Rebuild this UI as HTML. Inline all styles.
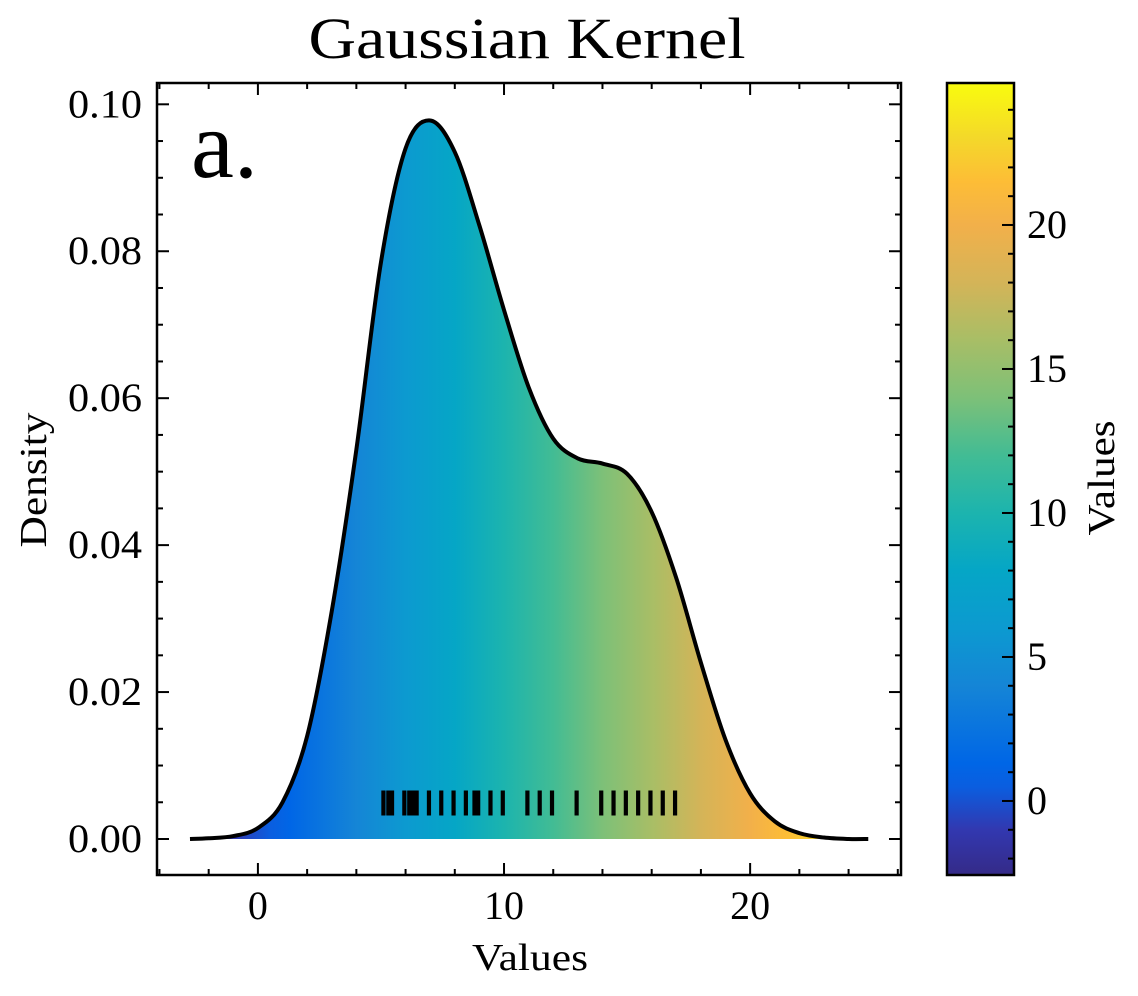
<!DOCTYPE html>
<html><head><meta charset="utf-8"><style>
html,body{margin:0;padding:0;background:#fff}
svg{display:block;font-family:"Liberation Serif","DejaVu Serif",serif}
</style></head><body>
<svg id="chart" width="1138" height="996" viewBox="0 0 1138 996" xmlns="http://www.w3.org/2000/svg">
<defs>
<linearGradient id="fillGrad" gradientUnits="userSpaceOnUse" x1="0" y1="0" x2="0" y2="0"></linearGradient>
<linearGradient id="cbGrad" gradientUnits="userSpaceOnUse" x1="0" y1="0" x2="0" y2="0"></linearGradient>
<clipPath id="plotClip"><rect x="157" y="83" width="744" height="792"/></clipPath>
</defs>
<g id="layer"></g>
</svg>
<script>
// ---- data ----
const curveX = [-2.76,-2,-1,0,1,2,3,4,5,6,7,8,9,10,11,12,13,14,15,16,17,18,19,20,21,22,23,24,24.8];
const curveY = [0,0.0001,0.0004,0.0015,0.0050,0.0140,0.0310,0.0530,0.0785,0.0940,0.0978,0.0935,0.0835,0.0720,0.0615,0.0545,0.0518,0.0511,0.0497,0.0445,0.0355,0.0240,0.0135,0.0062,0.0024,0.0008,0.0002,0.0000,0];
const rugValues = [5.1,5.3,5.45,5.95,6.15,6.3,6.45,6.95,7.45,7.95,8.45,8.8,8.95,9.45,9.95,10.95,11.45,11.95,12.95,13.95,14.45,14.95,15.45,15.95,16.45,16.95];
const xTicks = [0,10,20];
const xTickLabels = ["0","10","20"];
const yTicks = [0,0.02,0.04,0.06,0.08,0.10];
const yTickLabels = ["0.00","0.02","0.04","0.06","0.08","0.10"];
const cbTicks = [0,5,10,15,20];
const cbTickLabels = ["0","5","10","15","20"];
const cmapVals = [-2.6,-1,0.5,1.3,4,6,8,10,12,14,16,18,20,21.5,23,24.9];
const cmapCols = ["#352a87","#3238b0","#0a5ee0","#0066e6","#1585d6","#0c9ad0","#05a6c6","#1cb4ae","#42bc94","#7dc078","#a8be66","#d4b458","#f2b04a","#fdbd36","#f4d82a","#f9fb0e"];

// ---- scales ----
const PL=157,PR=901,PT=83,PB=875;
const X0=-4.1,X1=26.13,Y0=-0.0049,Y1=0.1029;
const sx=v=>PL+(v-X0)/(X1-X0)*(PR-PL);
const sy=v=>PB-(v-Y0)/(Y1-Y0)*(PB-PT);
const CL=947,CR=1014,CT=83,CB=875,C0=-2.57,C1=24.93;
const cy=v=>CB-(v-C0)/(C1-C0)*(CB-CT);

const NS="http://www.w3.org/2000/svg";
const layer=document.getElementById('layer');
function mk(tag,attrs,parent){const e=document.createElementNS(NS,tag);for(const k in attrs)e.setAttribute(k,attrs[k]);(parent||layer).appendChild(e);return e;}

const fg=document.getElementById('fillGrad');
fg.setAttribute('x1',sx(cmapVals[0]));fg.setAttribute('x2',sx(cmapVals[cmapVals.length-1]));
const cg=document.getElementById('cbGrad');
cg.setAttribute('y1',cy(cmapVals[0]));cg.setAttribute('y2',cy(cmapVals[cmapVals.length-1]));
const span=cmapVals[cmapVals.length-1]-cmapVals[0];
cmapVals.forEach((v,i)=>{
  const o=((v-cmapVals[0])/span).toFixed(4);
  mk('stop',{offset:o,'stop-color':cmapCols[i]},fg);
  mk('stop',{offset:o,'stop-color':cmapCols[i]},cg);
});

const pts=curveX.map((x,i)=>[sx(x),sy(curveY[i])]);
function smooth(p){let d=`M${p[0][0]},${p[0][1]}`;for(let i=0;i<p.length-1;i++){const p0=p[i-1]||p[i],p1=p[i],p2=p[i+1],p3=p[i+2]||p2;const c1=[p1[0]+(p2[0]-p0[0])/6,p1[1]+(p2[1]-p0[1])/6],c2=[p2[0]-(p3[0]-p1[0])/6,p2[1]-(p3[1]-p1[1])/6];d+=` C${c1[0]},${c1[1]} ${c2[0]},${c2[1]} ${p2[0]},${p2[1]}`;}return d;}
const lineD=smooth(pts);
const fillArea=mk('path',{d:lineD+` L${pts[pts.length-1][0]},${sy(0)} L${pts[0][0]},${sy(0)} Z`,fill:'url(#fillGrad)','clip-path':'url(#plotClip)'});



rugValues.forEach(v=>{
  const r=mk('line',{x1:sx(v),x2:sx(v),y1:sy(0.0066),y2:sy(0.0032),stroke:'#000','stroke-width':4.2});
  
  
});

const kde=mk('path',{d:lineD,fill:'none',stroke:'#000','stroke-width':4,'stroke-linejoin':'round','clip-path':'url(#plotClip)'});



const frame=mk('rect',{x:PL,y:PT,width:PR-PL,height:PB-PT,fill:'none',stroke:'#000','stroke-width':2.5});



for(let v=-4;v<=26;v+=2){const x=sx(v);const maj=xTicks.includes(v);const L=maj?12:6;
  mk('line',{x1:x,x2:x,y1:PB,y2:PB-L,stroke:'#000','stroke-width':2});
  mk('line',{x1:x,x2:x,y1:PT,y2:PT+L,stroke:'#000','stroke-width':2});}
xTicks.forEach((v,i)=>{const t=mk('text',{x:sx(v),y:919,'font-size':40,'text-anchor':'middle'});t.textContent=xTickLabels[i];
  
  });
for(let k=0;k<=20;k++){const v=k*0.005;const y=sy(v);const maj=k%4===0;const L=maj?12:6;
  mk('line',{x1:PL,x2:PL+L,y1:y,y2:y,stroke:'#000','stroke-width':2});
  mk('line',{x1:PR,x2:PR-L,y1:y,y2:y,stroke:'#000','stroke-width':2});}
yTicks.forEach((v,i)=>{const t=mk('text',{x:142,y:sy(v)+13,'font-size':40,'text-anchor':'end',textLength:74,lengthAdjust:'spacingAndGlyphs'});t.textContent=yTickLabels[i];
  
  });

const cb=mk('rect',{x:CL,y:CT,width:CR-CL,height:CB-CT,fill:'url(#cbGrad)',stroke:'#000','stroke-width':2.5});


for(let v=-2;v<=24;v++){const y=cy(v);const maj=cbTicks.includes(v);mk('line',{x1:CR,x2:CR-(maj?12:6),y1:y,y2:y,stroke:'#000','stroke-width':2});}
cbTicks.forEach((v,i)=>{const t=mk('text',{x:1027,y:cy(v)+13,'font-size':40});t.textContent=cbTickLabels[i];
  
  });
</script>
<script>
(function(){const NS="http://www.w3.org/2000/svg";const s=document.getElementById('chart');
function txt(name,attrs,str){const e=document.createElementNS(NS,'text');for(const k in attrs)e.setAttribute(k,attrs[k]);e.textContent=str;


s.appendChild(e);}
txt('chart-title',{x:527,y:58,'font-size':58,'text-anchor':'middle',textLength:437,lengthAdjust:'spacingAndGlyphs'},'Gaussian Kernel');
txt('panel-label',{x:191,y:177,'font-size':96,textLength:67,lengthAdjust:'spacingAndGlyphs'},'a.');
txt('x-axis-title',{x:530,y:970,'font-size':38,'text-anchor':'middle',textLength:116,lengthAdjust:'spacingAndGlyphs'},'Values');
txt('y-axis-title',{x:0,y:0,'font-size':38,'text-anchor':'middle',textLength:135,lengthAdjust:'spacingAndGlyphs',transform:'translate(46,480) rotate(-90)'},'Density');
txt('colorbar-title',{x:0,y:0,'font-size':38,'text-anchor':'middle',textLength:115,lengthAdjust:'spacingAndGlyphs',transform:'translate(1114,478) rotate(-90)'},'Values');
})();
</script>
</body></html>
